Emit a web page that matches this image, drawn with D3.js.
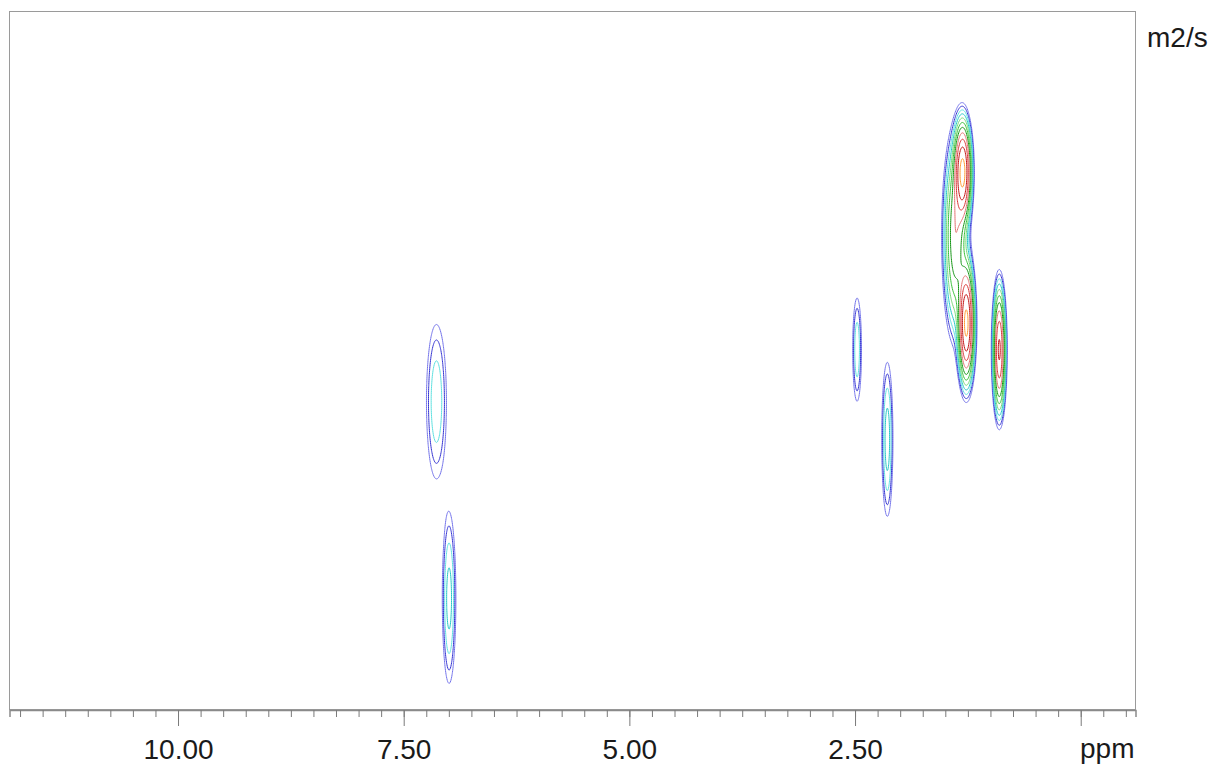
<!DOCTYPE html>
<html><head><meta charset="utf-8">
<script src="https://cdn.jsdelivr.net/npm/d3@7"></script>
<style>
html,body{margin:0;padding:0;background:#fff;}
svg{display:block;font-family:"Liberation Sans",Arial,sans-serif;}
</style>
</head><body>
<svg id="chart" width="1215" height="767"></svg>
<script>
// ---- data ----
// peak centres in chemical shift (ppm) and log10 diffusion coefficient (m2/s)
const peakPpm       = [7.14,   7.00,    2.48,   2.145,  1.39,   1.31,   1.27,   0.905];
const peakLogD      = [-9.615, -10.179, -9.466, -9.723, -9.14,  -8.956, -9.391, -9.466];
const peakWidthPpm  = [0.077,  0.047,   0.034,  0.038,  0.068,  0.0465, 0.043,  0.034];
const peakWidthLogD = [0.154,  0.152,   0.103,  0.135,  0.14,   0.070,  0.082,  0.088];
const peakHeight    = [2.8,    3.6,     2.8,    3.8,    13,     45,     45,     30];

const contourLevels = [1, 1.45, 2.1, 3.05, 4.4, 6.4, 9.3, 13.5, 19.6, 28.4, 41];
const levelColors   = ["#7272ea", "#3434d2", "#5ce0e0", "#22c6c6", "#74d874", "#34c034",
                       "#129412", "#e27272", "#d83434", "#c01414", "#ff9a30"];

const majorTickValues = [10, 7.5, 5, 2.5, 0];
const majorTickLabels = ["10.00", "7.50", "5.00", "2.50", ""];
const minorTickValues = [11.75,11.5,11.25,11,10.75,10.5,10.25,10,9.75,9.5,9.25,9,8.75,8.5,8.25,8,
  7.75,7.5,7.25,7,6.75,6.5,6.25,6,5.75,5.5,5.25,5,4.75,4.5,4.25,4,3.75,3.5,3.25,3,2.75,2.5,2.25,2,
  1.75,1.5,1.25,1,0.75,0.5,0.25,0,-0.25,-0.5];
const xAxisTitle = "ppm";
const yAxisTitle = "m2/s";

const xDomain = [11.867, -0.607];
const yDomain = [-8.5, -10.5];

// ---- layout ----
const svg = d3.select("#chart");
const plot = {left: 9.5, right: 1135.5, top: 11.5, bottom: 709.5};
const x = d3.scaleLinear().domain(xDomain).range([plot.left, plot.right]);
const y = d3.scaleLinear().domain(yDomain).range([plot.top, plot.bottom]);

// ---- grid of intensities ----
const nx = 2253, ny = 350;
const dp = (xDomain[1] - xDomain[0]) / (nx - 1);
const dd = (yDomain[1] - yDomain[0]) / (ny - 1);
const ppmAt = i => xDomain[0] + i * dp;
const logDAt = j => yDomain[0] + j * dd;
const values = new Float64Array(nx * ny);
for (let k = 0; k < peakPpm.length; k++) {
  const p = peakPpm[k], d = peakLogD[k], wp = peakWidthPpm[k], wd = peakWidthLogD[k], h = peakHeight[k];
  const i0 = Math.max(0, Math.floor((p + 6 * wp - xDomain[0]) / dp));
  const i1 = Math.min(nx - 1, Math.ceil((p - 6 * wp - xDomain[0]) / dp));
  const j0 = Math.max(0, Math.floor((d + 6 * wd - yDomain[0]) / dd));
  const j1 = Math.min(ny - 1, Math.ceil((d - 6 * wd - yDomain[0]) / dd));
  for (let j = j0; j <= j1; j++) {
    const ey = (logDAt(j) - d) / wd;
    for (let i = i0; i <= i1; i++) {
      const ex = (ppmAt(i) - p) / wp;
      values[j * nx + i] += h * Math.exp(-0.5 * (ex * ex + ey * ey));
    }
  }
}

const contours = d3.contours().size([nx, ny]).thresholds(contourLevels)(values);

const proj = d3.geoTransform({
  point: function(gx, gy) { this.stream.point(x(ppmAt(gx)), y(logDAt(gy))); }
});
const path = d3.geoPath(proj);

svg.append("defs").append("clipPath").attr("id", "clip")
  .append("rect").attr("x", plot.left).attr("y", plot.top)
  .attr("width", plot.right - plot.left).attr("height", plot.bottom - plot.top);

svg.append("g").attr("clip-path", "url(#clip)")
  .selectAll("path").data(contours).join("path")
  .attr("d", path)
  .attr("fill", "none")
  .attr("stroke", (c, i) => levelColors[i])
  .attr("stroke-width", 1)
  .attr("stroke-linejoin", "round");

// ---- frame ----
svg.append("rect")
  .attr("x", plot.left).attr("y", plot.top)
  .attr("width", plot.right - plot.left).attr("height", plot.bottom - plot.top)
  .attr("fill", "none").attr("stroke", "#9a9a9a").attr("stroke-width", 1);

// ---- x axis ----
const axisY = 710;
const minorAxis = d3.axisBottom(x).tickValues(minorTickValues).tickSize(7).tickFormat("");
const gMinor = svg.append("g").attr("transform", `translate(0,${axisY})`).call(minorAxis);
gMinor.select(".domain").attr("stroke", "#8a8a8a").attr("stroke-width", 1.5);
gMinor.selectAll(".tick line").attr("stroke", "#7a7a7a");

const majorAxis = d3.axisBottom(x).tickValues(majorTickValues).tickSize(16)
  .tickFormat((d, i) => majorTickLabels[i]);
const gMajor = svg.append("g").attr("transform", `translate(0,${axisY})`).call(majorAxis);
gMajor.select(".domain").remove();
gMajor.selectAll(".tick line").attr("stroke", "#7a7a7a");
gMajor.selectAll(".tick text")
  .attr("y", 49).attr("dy", 0)
  .attr("fill", "#1a1a1a")
  .style("font-family", '"Liberation Sans", Arial, sans-serif')
  .style("font-size", "28px");

svg.append("text").attr("x", 1080).attr("y", 758)
  .attr("fill", "#1a1a1a").style("font-size", "28px").text(xAxisTitle);
svg.append("text").attr("x", 1147).attr("y", 47)
  .attr("fill", "#1a1a1a").style("font-size", "28px").text(yAxisTitle);
</script>
</body></html>
